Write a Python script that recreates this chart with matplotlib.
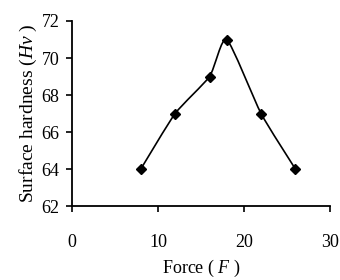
import numpy as np
import matplotlib.pyplot as plt
from matplotlib.path import Path
from matplotlib.patches import PathPatch

force = [8, 12, 16, 18, 22, 26]
hardness = [64, 67, 69, 71, 67, 64]
x_ticks = [0, 10, 20, 30]
y_ticks = [62, 64, 66, 68, 70, 72]

plt.rcParams['font.family'] = ['Liberation Serif', 'DejaVu Serif']
plt.rcParams['mathtext.fontset'] = 'custom'
plt.rcParams['mathtext.it'] = 'Liberation Serif:italic'
plt.rcParams['mathtext.rm'] = 'Liberation Serif'

fig = plt.figure(figsize=(3.4, 2.8), dpi=100)
ax = fig.add_axes([0.212, 0.264, 0.758, 0.661])


def smooth_path(xs, ys, k=0.1):
    # smoothed line like the spreadsheet one: cubic Bezier segments
    pts = np.column_stack([xs, ys]).astype(float)
    n = len(pts)
    verts = [pts[0]]
    codes = [Path.MOVETO]
    for i in range(n - 1):
        p0 = pts[max(i - 1, 0)]
        p1 = pts[i]
        p2 = pts[i + 1]
        p3 = pts[min(i + 2, n - 1)]
        c1 = p1 + (p2 - p0) * k
        c2 = p2 - (p3 - p1) * k
        verts += [c1, c2, p2]
        codes += [Path.CURVE4] * 3
    return Path(verts, codes)


ax.add_patch(PathPatch(smooth_path(force, hardness), facecolor='none',
                       edgecolor='black', lw=1.2))
ax.plot(force, hardness, linestyle='none', marker='D', color='black',
        markersize=5.5)

ax.set_xlim(0, 30)
ax.set_ylim(62, 72)
ax.set_xticks(x_ticks)
ax.set_yticks(y_ticks)
ax.spines['top'].set_visible(False)
ax.spines['right'].set_visible(False)
ax.spines['left'].set_linewidth(1.3)
ax.spines['bottom'].set_linewidth(1.3)
ax.tick_params(axis='both', direction='out', length=4, width=1.2,
               labelsize=13)
ax.tick_params(axis='x', pad=16)
ax.tick_params(axis='y', pad=5)

ax.set_xlabel('Force ( $F$ )', fontsize=13, labelpad=5)
ax.set_ylabel('Surface hardness ($Hv$ )', fontsize=14, labelpad=2)

fig.savefig('out.png', dpi=100)
